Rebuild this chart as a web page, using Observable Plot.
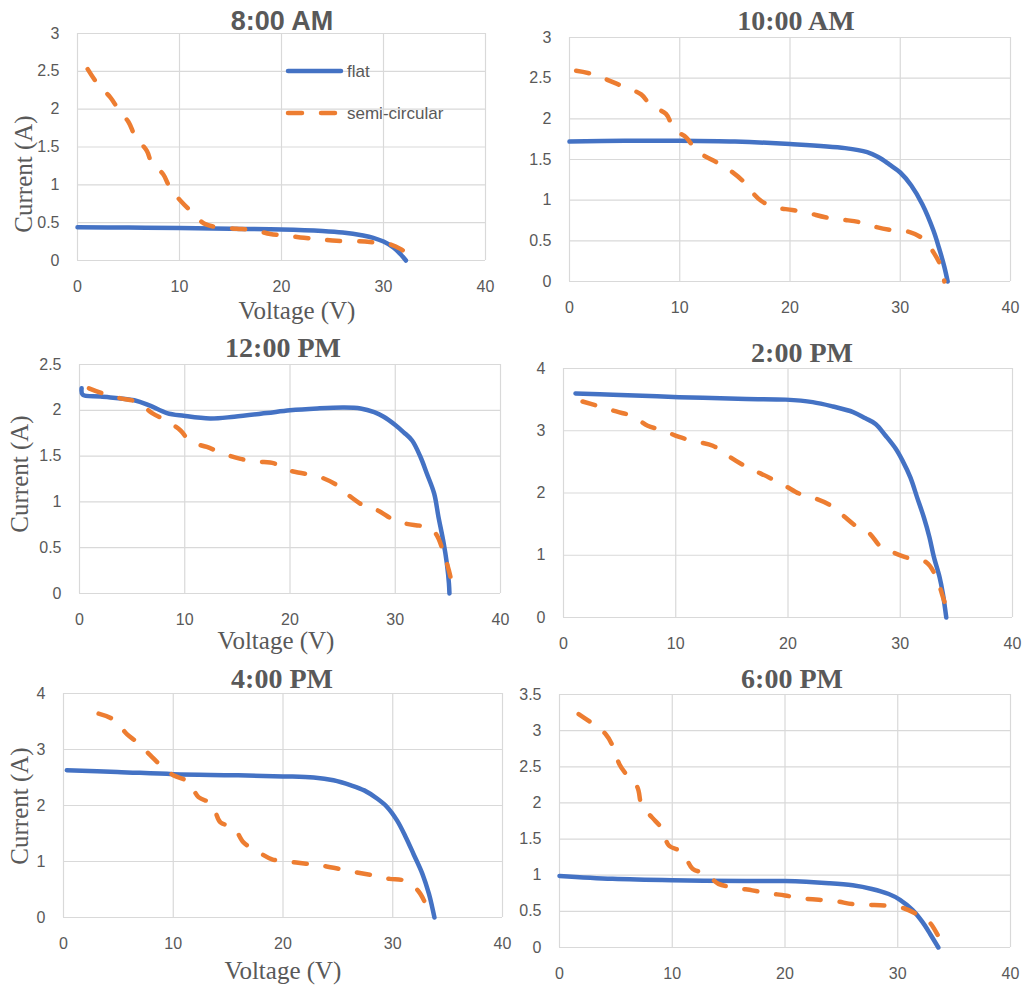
<!DOCTYPE html>
<html><head><meta charset="utf-8">
<script src="https://cdn.jsdelivr.net/npm/d3@7"></script>
<script src="https://cdn.jsdelivr.net/npm/@observablehq/plot@0.6"></script>
<style>
body{margin:0;background:#fff;overflow:hidden}
#root{position:relative;width:1024px;height:985px;background:#fff;overflow:hidden}
.abs{position:absolute;white-space:nowrap;line-height:1;color:#595959;transform:translate(-50%,-50%)}
.title{font-family:"Liberation Serif","Times New Roman",serif;font-weight:bold;font-size:28px}
.title.sans{font-family:"Liberation Sans",Arial,sans-serif;font-size:27px}
.axt{font-family:"Liberation Serif","Times New Roman",serif;font-size:25px}
.rot{transform:translate(-50%,-50%) rotate(-90deg)}
.leg{position:absolute;white-space:nowrap;line-height:1;color:#595959;font-family:"Liberation Sans",Arial,sans-serif;font-size:17px;transform:translate(0,-50%)}
</style></head><body><div id="root"></div>
<script>
// ---------- data (Voltage V, Current A) ----------
const xTicks = [0, 10, 20, 30, 40];

// 8:00 AM
const flat8V = [0, 5, 10, 15, 20, 24, 26, 28, 29, 30, 31, 31.7, 32.2];
const flat8I = [0.44, 0.435, 0.43, 0.42, 0.41, 0.39, 0.37, 0.33, 0.30, 0.25, 0.17, 0.08, 0];
const semi8V = [1.0, 2.1, 3.2, 4.0, 5.0, 5.7, 6.8, 7.3, 8.4, 9.1, 10.1, 11.2, 12.4, 13.7, 15.6, 17.3, 18.9, 20.5, 22.2, 23.8, 25.4, 27.4, 29.0, 30.5, 31.7, 32.5, 33.0];
const semi8I = [2.53, 2.31, 2.16, 2.0, 1.83, 1.63, 1.45, 1.28, 1.14, 0.95, 0.79, 0.64, 0.49, 0.44, 0.42, 0.40, 0.35, 0.33, 0.30, 0.28, 0.26, 0.255, 0.24, 0.22, 0.15, 0.07, 0];

// 10:00 AM
const flat10V = [0, 5, 10, 15, 20, 25, 27, 28, 29, 30, 31, 32, 33, 33.5, 34, 34.3];
const flat10I = [1.72, 1.73, 1.73, 1.72, 1.69, 1.64, 1.59, 1.53, 1.44, 1.34, 1.18, 0.95, 0.63, 0.42, 0.18, 0];
const semi10V = [0.6, 2.1, 3.6, 5.0, 6.5, 7.4, 8.75, 9.5, 10.6, 11.5, 13.0, 14.2, 15.7, 16.3, 17.4, 18.7, 20.2, 21.7, 23.2, 24.8, 26.3, 27.8, 29.3, 30.8, 32.1, 33.1, 33.7, 34.0];
const semi10I = [2.59, 2.55, 2.47, 2.39, 2.30, 2.16, 2.06, 1.87, 1.77, 1.61, 1.49, 1.40, 1.24, 1.14, 0.99, 0.91, 0.88, 0.84, 0.79, 0.76, 0.73, 0.67, 0.63, 0.61, 0.52, 0.34, 0.18, 0];

// 12:00 PM
const flat12V = [0.2, 0.3, 2.0, 5.2, 6.7, 8.3, 9.9, 12.4, 14.7, 17.8, 20.0, 22.6, 25.1, 26.7, 28.0, 28.9, 30.0, 30.8, 31.6, 32.4, 33.0, 33.7, 34.1, 34.6, 34.9, 35.1, 35.15];
const flat12I = [2.24, 2.17, 2.15, 2.11, 2.05, 1.97, 1.94, 1.91, 1.93, 1.97, 2.00, 2.02, 2.03, 2.02, 1.98, 1.93, 1.84, 1.76, 1.67, 1.49, 1.31, 1.09, 0.84, 0.55, 0.33, 0.11, 0];
const semi12V = [0.9, 2.3, 3.9, 5.5, 6.9, 8.2, 9.6, 10.5, 12.1, 13.6, 15.3, 16.9, 18.5, 19.7, 21.3, 22.9, 24.5, 25.6, 27.0, 28.3, 29.9, 31.1, 32.7, 33.8, 34.6, 35.1, 35.6];
const semi12I = [2.24, 2.18, 2.13, 2.09, 1.97, 1.89, 1.78, 1.66, 1.60, 1.53, 1.47, 1.44, 1.42, 1.35, 1.31, 1.27, 1.18, 1.07, 0.96, 0.91, 0.80, 0.76, 0.73, 0.66, 0.44, 0.25, 0];

// 2:00 PM
const flat2V = [1.07, 4.4, 10.3, 16.3, 19.8, 22.2, 24.0, 25.8, 26.9, 27.8, 28.7, 29.6, 30.2, 30.9, 31.5, 32.1, 32.6, 33.0, 33.5, 33.8, 34.1];
const flat2I = [3.60, 3.58, 3.54, 3.51, 3.50, 3.46, 3.39, 3.30, 3.20, 3.11, 2.92, 2.71, 2.52, 2.25, 1.93, 1.61, 1.29, 0.97, 0.65, 0.38, 0];
const semi2V = [1.7, 3.2, 4.7, 6.2, 7.5, 8.8, 10.3, 11.7, 13.3, 14.3, 15.8, 16.9, 18.3, 19.7, 21.0, 22.3, 23.8, 24.9, 26.2, 27.2, 28.3, 29.3, 30.8, 32.3, 33.2, 33.8, 34.4];
const semi2I = [3.47, 3.39, 3.31, 3.23, 3.08, 3.01, 2.90, 2.83, 2.76, 2.64, 2.47, 2.37, 2.25, 2.12, 1.99, 1.92, 1.80, 1.64, 1.45, 1.36, 1.13, 1.05, 0.95, 0.89, 0.65, 0.33, 0];

// 4:00 PM
const flat4V = [0.3, 4.9, 10.0, 15.5, 20.0, 22.8, 24.6, 26.2, 27.4, 28.6, 29.5, 30.4, 31.2, 31.9, 32.7, 33.3, 33.6, 33.8];
const flat4I = [2.63, 2.60, 2.56, 2.54, 2.52, 2.50, 2.45, 2.36, 2.27, 2.12, 1.97, 1.73, 1.43, 1.13, 0.78, 0.42, 0.18, 0];
const semi4V = [3.2, 4.6, 5.8, 6.7, 7.9, 9.0, 10.0, 11.4, 12.3, 13.5, 14.3, 15.5, 16.4, 17.6, 19.0, 20.4, 22.1, 23.4, 25.1, 26.6, 28.3, 29.7, 31.0, 32.3, 33.0, 33.5];
const semi4I = [3.64, 3.53, 3.27, 3.13, 2.90, 2.69, 2.54, 2.42, 2.15, 2.03, 1.70, 1.61, 1.34, 1.19, 1.04, 1.00, 0.96, 0.93, 0.87, 0.81, 0.75, 0.69, 0.66, 0.48, 0.24, 0];

// 6:00 PM
const flat6V = [0, 4.7, 10.0, 16.5, 20.0, 23.9, 26.0, 27.7, 29.2, 30.2, 31.3, 32.2, 32.9, 33.6];
const flat6I = [0.99, 0.95, 0.93, 0.92, 0.92, 0.89, 0.86, 0.81, 0.74, 0.66, 0.52, 0.35, 0.18, 0];
const semi6V = [1.7, 2.9, 4.1, 4.8, 5.3, 6.0, 6.9, 7.3, 8.2, 9.1, 9.7, 10.9, 11.8, 13.0, 14.1, 15.5, 17.1, 18.6, 20.0, 21.5, 23.0, 24.5, 26.0, 27.4, 28.9, 30.4, 31.7, 32.8, 33.6, 34.2];
const semi6I = [3.23, 3.10, 2.95, 2.76, 2.54, 2.38, 2.22, 1.96, 1.80, 1.64, 1.41, 1.32, 1.09, 1.02, 0.88, 0.83, 0.79, 0.75, 0.72, 0.68, 0.66, 0.64, 0.60, 0.59, 0.58, 0.55, 0.46, 0.35, 0.16, 0];

const titles = ["8:00 AM", "10:00 AM", "12:00 PM", "2:00 PM", "4:00 PM", "6:00 PM"];
const yTicksA = [0, 0.5, 1, 1.5, 2, 2.5, 3];
const yTicksB = [0, 0.5, 1, 1.5, 2, 2.5];
const yTicksC = [0, 1, 2, 3, 4];
const yTicksD = [0, 0.5, 1, 1.5, 2, 2.5, 3, 3.5];
const seriesNames = ["flat", "semi-circular"];
const xLabel = "Voltage (V)";
const yLabel = "Current (A)";

// ---------- layout ----------
const panels = [
  {title: titles[0], sans: true, fv: flat8V, fi: flat8I, sv: semi8V, si: semi8I, yMax: 3, yTicks: yTicksA, box: [77, 485, 33, 260], tXY: [282, 21], yLab: [23, 174], xLab: [297, 310], legend: true},
  {title: titles[1], fv: flat10V, fi: flat10I, sv: semi10V, si: semi10I, yMax: 3, yTicks: yTicksA, box: [569, 1010, 37, 281], tXY: [796, 21]},
  {title: titles[2], fv: flat12V, fi: flat12I, sv: semi12V, si: semi12I, yMax: 2.5, yTicks: yTicksB, box: [79, 500, 364, 593], tXY: [283, 348], yLab: [19, 474], xLab: [276, 640]},
  {title: titles[3], fv: flat2V, fi: flat2I, sv: semi2V, si: semi2I, yMax: 4, yTicks: yTicksC, box: [563, 1012, 368, 617], tXY: [802, 353]},
  {title: titles[4], fv: flat4V, fi: flat4I, sv: semi4V, si: semi4I, yMax: 4, yTicks: yTicksC, box: [63, 502, 693, 917], tXY: [282, 679], yLab: [19, 806], xLab: [283, 970]},
  {title: titles[5], fv: flat6V, fi: flat6I, sv: semi6V, si: semi6I, yMax: 3.5, yTicks: yTicksD, box: [559, 1010, 694, 947], tXY: [792, 679]}
];

const BLUE = "#4472C4", ORANGE = "#ED7D31", GRID = "#D9D9D9";
const root = document.getElementById("root");
const mL = 55, mR = 12, mT = 12, mB = 32;
const rows = (v, i) => v.map((d, k) => ({v: d, i: i[k]}));

function addText(cls, txt, x, y) {
  const d = document.createElement("div");
  d.className = cls;
  d.textContent = txt;
  d.style.left = x + "px";
  d.style.top = y + "px";
  root.appendChild(d);
  return d;
}

for (const p of panels) {
  const [L, R, T, B] = p.box;
  const svg = Plot.plot({
    width: R - L + mL + mR,
    height: B - T + mT + mB,
    marginLeft: mL, marginRight: mR, marginTop: mT, marginBottom: mB,
    style: {fontFamily: "'Liberation Sans', Arial, sans-serif", fontSize: "16px", color: "#595959", background: "transparent", overflow: "visible"},
    x: {domain: [0, 40]},
    y: {domain: [0, p.yMax]},
    marks: [
      Plot.gridX(xTicks, {stroke: GRID, strokeOpacity: 1, strokeWidth: 1.2}),
      Plot.gridY(p.yTicks, {stroke: GRID, strokeOpacity: 1, strokeWidth: 1.2}),
      Plot.axisX(xTicks, {tickSize: 0, tickPadding: 20, label: null, tickFormat: d => String(d)}),
      Plot.axisY(p.yTicks, {tickSize: 0, tickPadding: 18, label: null, tickFormat: d => String(d)}),
      Plot.line(rows(p.fv, p.fi), {x: "v", y: "i", stroke: BLUE, strokeWidth: 4.5, strokeLinecap: "round", strokeLinejoin: "round", curve: "catmull-rom"}),
      Plot.line(rows(p.sv, p.si), {x: "v", y: "i", stroke: ORANGE, strokeWidth: 4.5, strokeDasharray: "13,19", strokeLinecap: "round", strokeLinejoin: "round", curve: "catmull-rom"})
    ]
  });
  svg.style.position = "absolute";
  svg.style.left = (L - mL) + "px";
  svg.style.top = (T - mT) + "px";
  root.appendChild(svg);

  addText("abs title" + (p.sans ? " sans" : ""), p.title, p.tXY[0], p.tXY[1]);
  if (p.yLab) addText("abs axt rot", yLabel, p.yLab[0], p.yLab[1]);
  if (p.xLab) addText("abs axt", xLabel, p.xLab[0], p.xLab[1]);

  if (p.legend) {
    const ns = "http://www.w3.org/2000/svg";
    const lg = document.createElementNS(ns, "svg");
    lg.setAttribute("width", 70); lg.setAttribute("height", 60);
    lg.style.position = "absolute"; lg.style.left = "280px"; lg.style.top = "61px";
    lg.innerHTML =
      `<line x1="8" x2="61" y1="10" y2="10" stroke="${BLUE}" stroke-width="4.5" stroke-linecap="round"/>` +
      `<line x1="8" x2="57" y1="52" y2="52" stroke="${ORANGE}" stroke-width="4.5" stroke-linecap="round" stroke-dasharray="14,19"/>`;
    root.appendChild(lg);
    addText("leg", seriesNames[0], 347, 71);
    addText("leg", seriesNames[1], 347, 113);
  }
}
</script></body></html>
